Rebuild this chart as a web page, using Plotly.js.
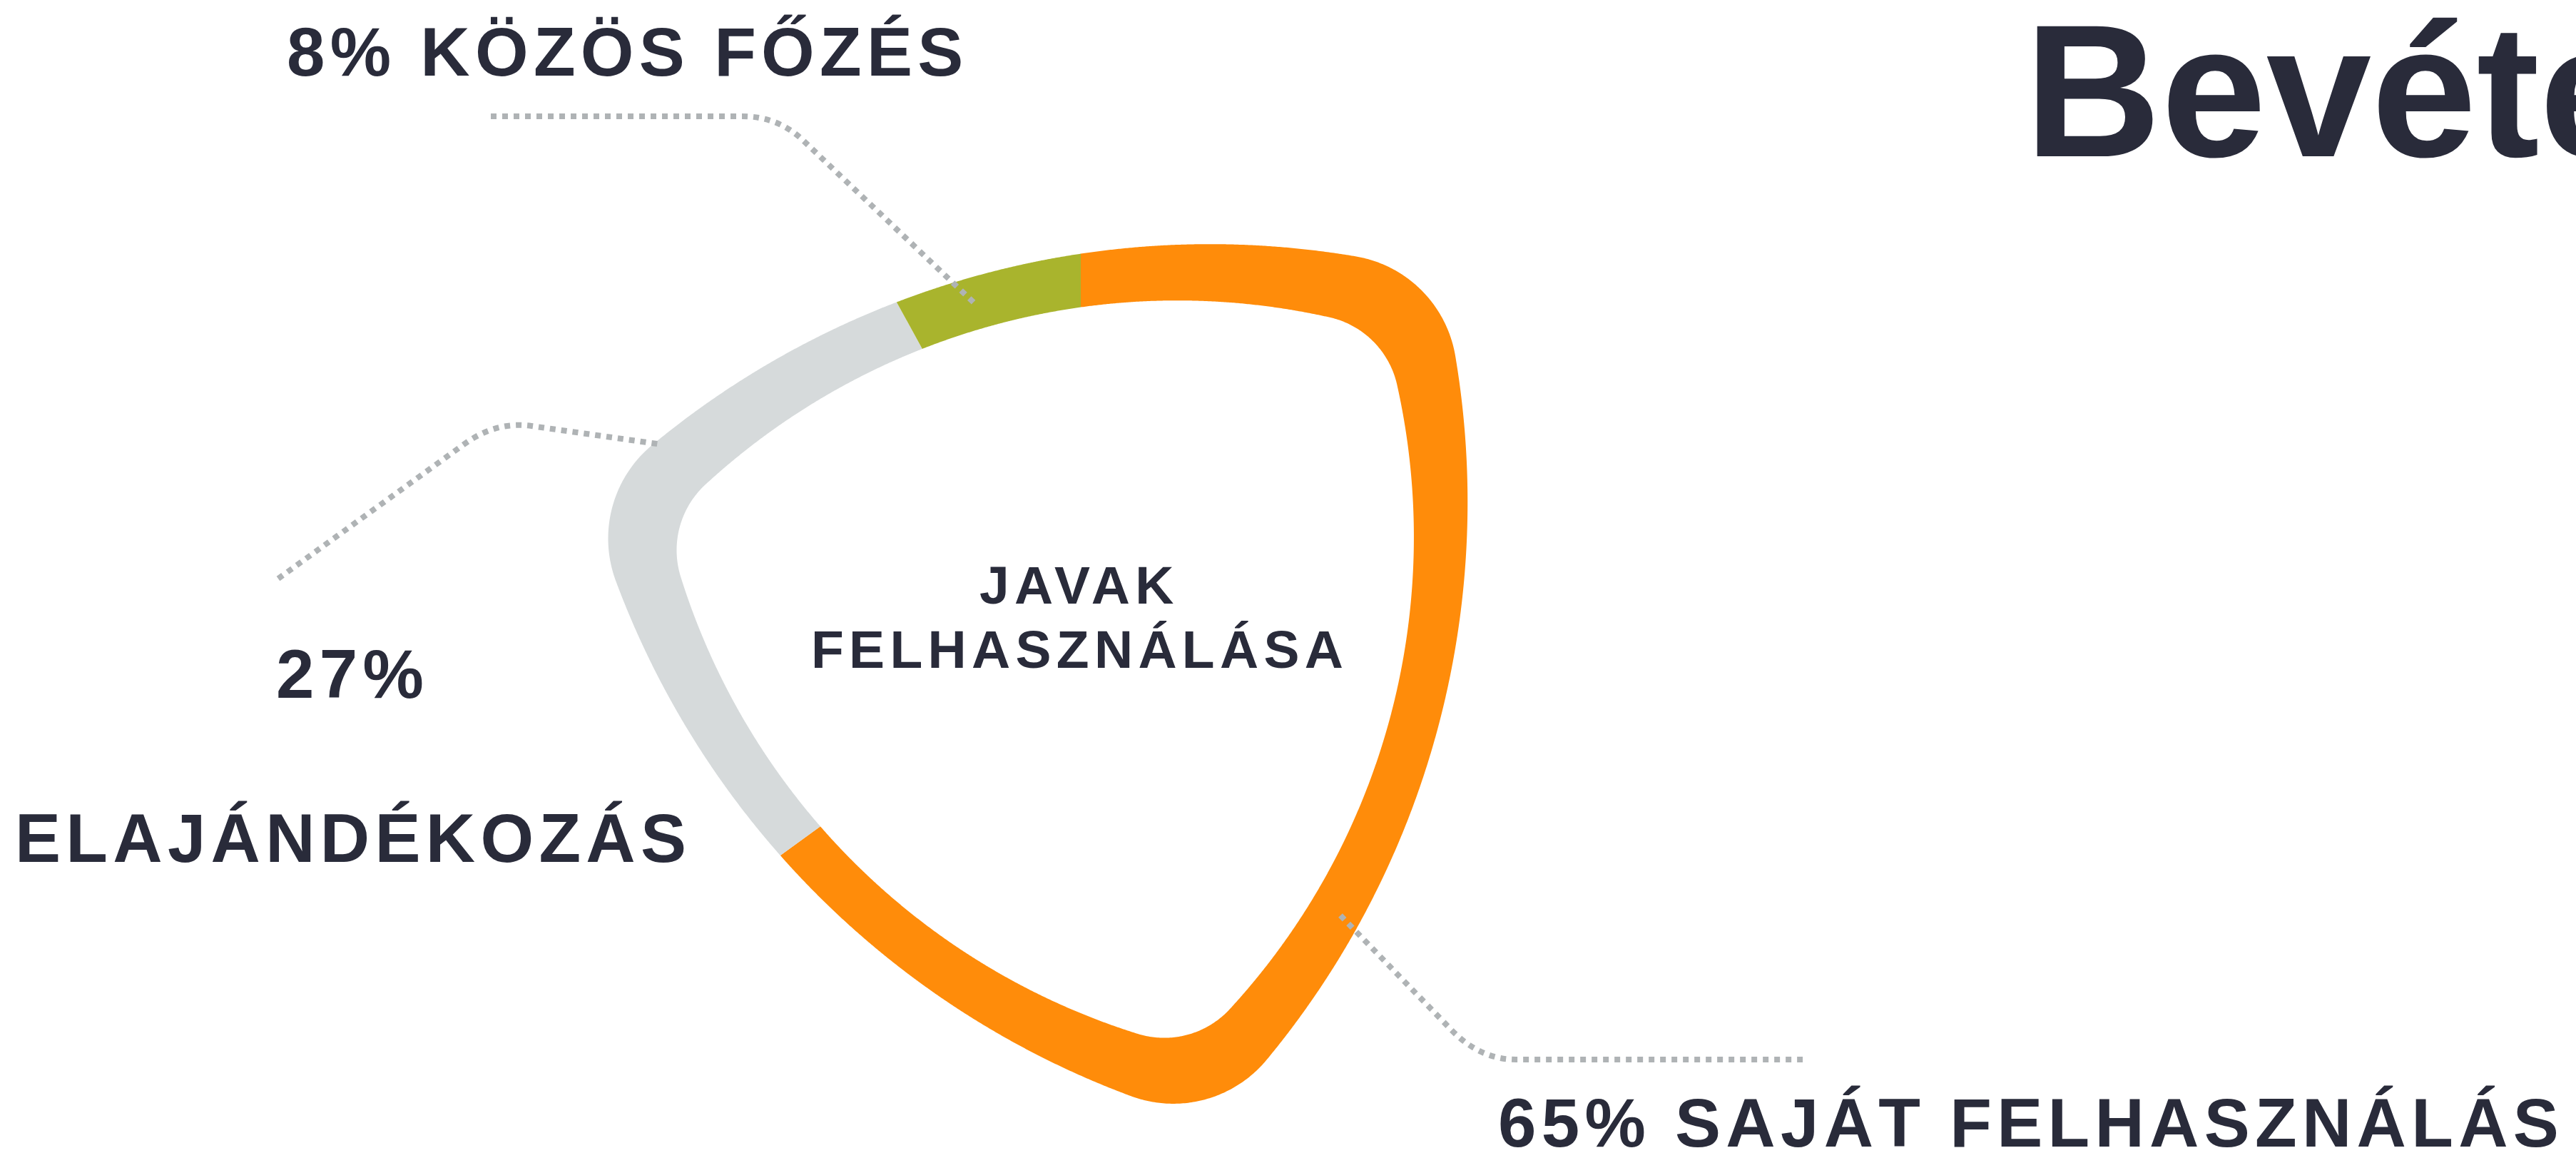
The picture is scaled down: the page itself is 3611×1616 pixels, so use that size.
<!DOCTYPE html>
<html>
<head>
<meta charset="utf-8">
<script src="https://cdn.plot.ly/plotly-3.0.1.min.js"></script>
<style>
html,body{margin:0;padding:0;background:#ffffff;overflow:hidden}
#chart{width:3611px;height:1616px}
text.annotation-text{letter-spacing:7.3px}
</style>
</head>
<body>
<div id="chart"></div>
<script>
// ---- data ----
const categories = ['saját felhasználás', 'elajándékozás', 'közös főzés'];
const values = [65, 27, 8];
const centerLabel = ['JAVAK', 'FELHASZNÁLÁSA'];
const titleText = 'Bevételek';

// ---- style ----
const sliceColors = ['#FF8C0A', '#D6DADB', '#A9B42D'];
const textColor = '#292b3a';
const FONT = 'Liberation Sans, Arial, sans-serif';
const W = 3611, H = 1616;

// Ring outline: a rounded triangle (three gently bulging sides joined by
// circular corners). mid = centre-to-side distance, tip = centre-to-corner
// distance, rc = corner radius, shift = small offset of the outline.
const RING = {
  cx: 1515, cy: 893, vertex: 45, shiftDir: 345,
  outer: {mid: 520, tip: 678, rc: 170, shift: 7},
  inner: {mid: 450, tip: 581, rc: 125, shift: 4}
};
const D2R = Math.PI / 180;
const nrm = a => [Math.sin(a * D2R), -Math.cos(a * D2R)];
const angOf = (x, y) => { let t = Math.atan2(x, -y) / D2R; return t < 0 ? t + 360 : t; };

function buildProfile(c) {
  const dp = c.mid - c.rc, vp = c.tip - c.rc;
  const u = (vp * vp - dp * dp) / (2 * dp - vp);
  const Rs = u + dp;
  const V = [], C = [];
  for (let j = 0; j < 3; j++) {
    const a = RING.vertex + 120 * j, n = nrm(a);
    V.push([vp * n[0], vp * n[1]]);
    const s = nrm(a + 60);
    C.push([-u * s[0], -u * s[1]]);          // side after vertex j
  }
  const pts = [];
  const arc = (cx, cy, r, a0, a1, step) => {
    while (a1 < a0) a1 += 360;
    const n = Math.max(2, Math.ceil((a1 - a0) / step));
    for (let k = 0; k <= n; k++) {
      const q = nrm(a0 + (a1 - a0) * k / n);
      pts.push([cx + r * q[0], cy + r * q[1]]);
    }
  };
  for (let j = 0; j < 3; j++) {
    const prev = C[(j + 2) % 3], next = C[j], v = V[j], w = V[(j + 1) % 3];
    const aIn = angOf(v[0] - prev[0], v[1] - prev[1]);
    const aOut = angOf(v[0] - next[0], v[1] - next[1]);
    arc(v[0], v[1], c.rc, aIn, aOut, 0.2);                      // corner
    const aEnd = angOf(w[0] - next[0], w[1] - next[1]);
    arc(next[0], next[1], Rs + c.rc, aOut, aEnd, 0.04);        // side
  }
  const sh = nrm(RING.shiftDir);
  const tbl = pts.map(p => {
    const x = p[0] + c.shift * sh[0], y = p[1] + c.shift * sh[1];
    return [angOf(x, y), Math.hypot(x, y)];
  });
  tbl.sort((a, b) => a[0] - b[0]);
  return tbl;
}
function rAt(tbl, th) {
  th = ((th % 360) + 360) % 360;
  let lo = 0, hi = tbl.length - 1;
  if (th <= tbl[0][0] || th >= tbl[hi][0]) {
    const a = tbl[hi], b = tbl[0];
    const span = b[0] + 360 - a[0];
    const t = span > 0 ? ((th - a[0] + 360) % 360) / span : 0;
    return a[1] + (b[1] - a[1]) * t;
  }
  while (hi - lo > 1) { const m = (lo + hi) >> 1; if (tbl[m][0] <= th) lo = m; else hi = m; }
  const a = tbl[lo], b = tbl[hi];
  return b[0] > a[0] ? a[1] + (b[1] - a[1]) * (th - a[0]) / (b[0] - a[0]) : a[1];
}
const OUT = buildProfile(RING.outer), INN = buildProfile(RING.inner);
function pt(tbl, th) {
  const r = rAt(tbl, th), q = nrm(th);
  return [RING.cx + r * q[0], RING.cy + r * q[1]];
}

const total = values.reduce((a, b) => a + b, 0);
const traces = [];
let acc = 0;
values.forEach((v, i) => {
  const a0 = acc / total * 360, a1 = (acc + v) / total * 360;
  acc += v;
  const xs = [], ys = [];
  const n = Math.max(2, Math.ceil((a1 - a0) / 0.2));
  for (let k = 0; k <= n; k++) {
    const p = pt(OUT, a0 + (a1 - a0) * k / n); xs.push(p[0]); ys.push(p[1]);
  }
  for (let k = n; k >= 0; k--) {
    const p = pt(INN, a0 + (a1 - a0) * k / n); xs.push(p[0]); ys.push(p[1]);
  }
  xs.push(xs[0]); ys.push(ys[0]);
  traces.push({
    type: 'scatter', mode: 'lines', x: xs, y: ys, fill: 'toself',
    fillcolor: sliceColors[i],
    line: {width: 0, color: sliceColors[i], simplify: false},
    hoverinfo: 'skip', name: categories[i]
  });
});

const lbl = (text, x, y, size, anchor) => ({
  text: text, x: x, y: y, xref: 'x', yref: 'y', showarrow: false,
  xanchor: anchor || 'left', yanchor: 'middle', align: 'center',
  font: {family: FONT, size: size, color: textColor, weight: 'bold'}
});

const pctText = i => values[i] + '%';
const catText = i => categories[i].toUpperCase();

const annotations = [
  lbl(pctText(2) + ' ' + catText(2), 400, 72.5, 96),
  lbl(pctText(1), 385, 944.5, 96),
  lbl(catText(1), 19, 1174.5, 96),
  lbl(pctText(0) + ' ' + catText(0), 2098, 1573, 96),
  lbl(centerLabel[0], 1513, 820, 75, 'center'),
  lbl(centerLabel[1], 1513, 910, 75, 'center')
];

const leader = d => ({
  type: 'path', xref: 'x', yref: 'y', path: d, layer: 'above',
  fillcolor: 'rgba(0,0,0,0)',
  line: {color: '#afb3b5', width: 8, dash: '8px,8px'}
});
const shapes = [
  leader('M 688 163 L 1040 163 Q 1090 163 1125 196 L 1367 426'),
  leader('M 390 811 L 650 623 Q 695 590 745 597 L 928 623'),
  leader('M 1879 1283 L 2035 1444 Q 2075 1485 2125 1485 L 2527 1485')
];

const layout = {
  width: W, height: H,
  margin: {l: 0, r: 0, t: 0, b: 0, pad: 0},
  paper_bgcolor: '#ffffff', plot_bgcolor: '#ffffff',
  showlegend: false,
  title: {
    text: titleText, xref: 'container', yref: 'container',
    x: 2838 / W, xanchor: 'left', y: 1 - 33.5 / H, yanchor: 'top',
    automargin: false,
    font: {family: FONT, size: 265, color: textColor, weight: 'bold'}
  },
  xaxis: {range: [0, W], visible: false, fixedrange: true},
  yaxis: {range: [H, 0], visible: false, fixedrange: true},
  annotations: annotations,
  shapes: shapes
};

Plotly.newPlot('chart', traces, layout, {staticPlot: true, displayModeBar: false});
</script>
</body>
</html>
